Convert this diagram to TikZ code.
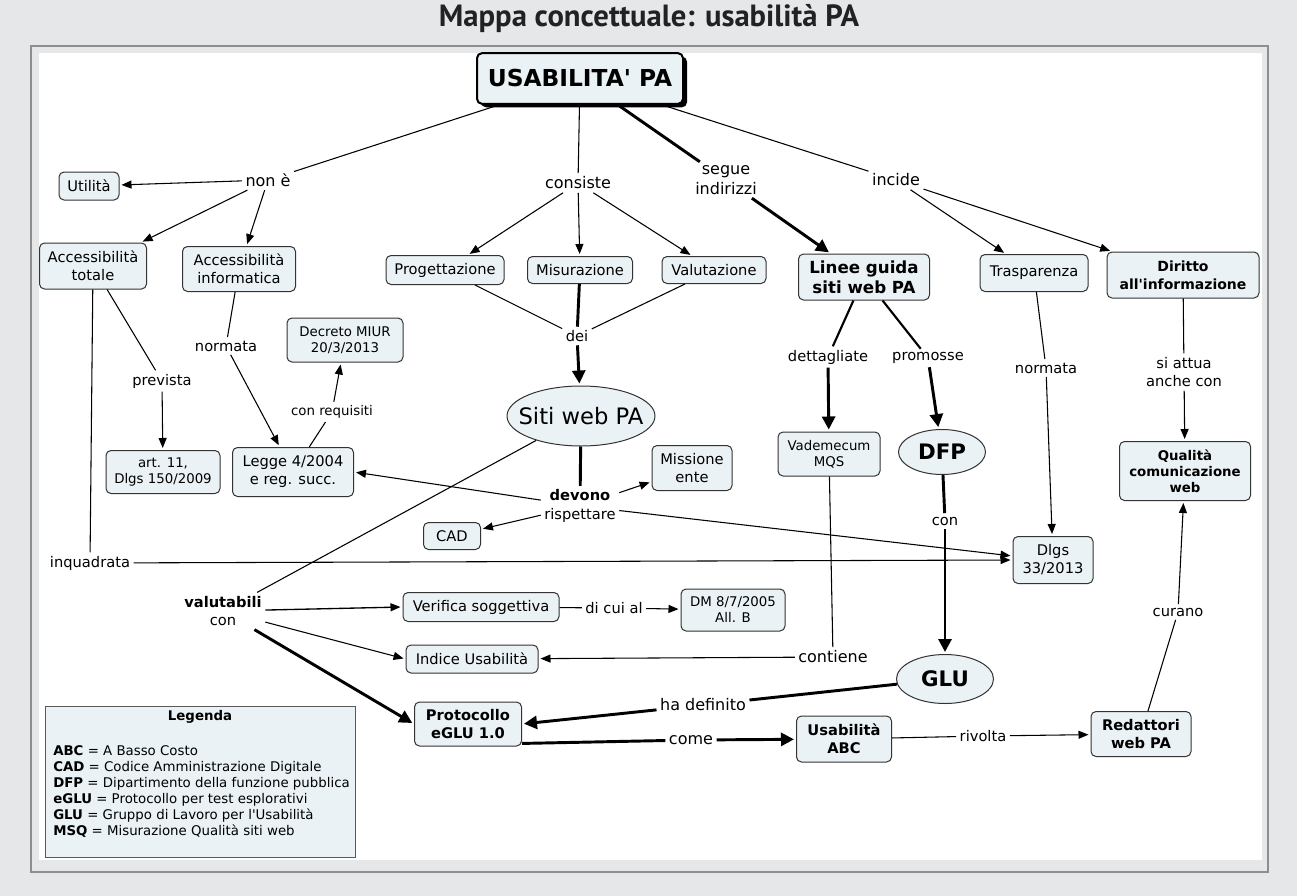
\documentclass[tikz,border=0pt]{standalone}
\usepackage{fontspec}
\setmainfont{DejaVu Sans}[Ligatures=TeXOff]
\newfontfamily\titlefont{PT Sans}
\usetikzlibrary{arrows.meta,shapes.geometric,shadows,calc}
\definecolor{bgc}{HTML}{E6E7E8}
\definecolor{framec}{HTML}{8E8E8E}
\definecolor{nodec}{HTML}{EAF2F5}
\definecolor{bordc}{HTML}{333333}
\definecolor{titlec}{HTML}{222222}
\newcommand{\mapN}{\fontsize{11}{13.5}\selectfont}
\newcommand{\mapNB}{\fontsize{11}{13.5}\selectfont\bfseries}
\newcommand{\mapS}{\fontsize{10}{12}\selectfont}
\newcommand{\mapL}{\fontsize{12}{15}\selectfont}
\newcommand{\mapLbl}{\fontsize{11}{14}\selectfont}
\newcommand{\mapSl}{\fontsize{10}{12}\selectfont}
\newcommand{\mapLB}{\fontsize{12.5}{15}\selectfont\bfseries}
\newcommand{\mapDB}{\fontsize{10.5}{13.5}\selectfont\bfseries}
\newcommand{\mapQB}{\fontsize{10}{12}\selectfont\bfseries}
\newcommand{\mapXL}{\fontsize{17}{20}\selectfont}
\newcommand{\mapXLB}{\fontsize{16}{19}\selectfont\bfseries}
\newcommand{\mapT}{\fontsize{17.5}{21}\selectfont\bfseries}
\begin{document}
\begin{tikzpicture}[x=0.75pt,y=-0.75pt,
  concept/.style={rectangle, draw=bordc, fill=nodec, rounded corners=3.75pt, line width=0.75pt, align=center, inner sep=0pt, font=\mapN},
  oval/.style={ellipse, draw=bordc, fill=nodec, line width=0.75pt, inner sep=0pt},
  lbl/.style={align=center, inner sep=2.5pt, font=\mapLbl},
  lblbig/.style={lbl, font=\mapL},
  ln/.style={line width=0.8pt, draw=black},
  lna/.style={ln, -{Triangle[length=7.5pt,width=6pt]}, shorten >=1.5pt},
  md/.style={line width=1.6pt, draw=black},
  tk/.style={line width=2.2pt, draw=black},
  tka/.style={tk, -{Triangle[length=9.75pt,width=9.75pt]}, shorten >=1.5pt},
  leg/.style={inner sep=0pt, font=\fontsize{10}{12}\selectfont}
]
\useasboundingbox (0,0) rectangle (1297,896);
\fill[bgc] (0,0) rectangle (1297,896);
\fill[white] (39,53) rectangle (1262,860);
\draw[framec, line width=1.7pt] (31,46) rectangle (1268,872);

\node[font=\titlefont\bfseries\fontsize{23}{27}\selectfont, text=titlec, inner sep=0pt, anchor=base] (title) at (649,26.5) {Mappa concettuale: usabilità PA};

% concepts
\node[concept, font=\mapT, line width=1.5pt, draw=black,
      drop shadow={shadow xshift=3pt, shadow yshift=-2.6pt, opacity=1, fill=black},
      minimum width=154.5pt, minimum height=38pt] (usab) at (580,78.5) {USABILITA' PA};
\node[concept, minimum width=45pt, minimum height=21pt] (utilita) at (89,186) {Utilità};
\node[concept, minimum width=80.25pt, minimum height=34.5pt] (acctot) at (93,266) {Accessibilità\\totale};
\node[concept, minimum width=84.75pt, minimum height=33.75pt] (accinf) at (239,269) {Accessibilità\\informatica};
\node[concept, minimum width=88.5pt, minimum height=21.75pt] (prog) at (445,270) {Progettazione};
\node[concept, minimum width=78.75pt, minimum height=20.25pt] (misur) at (580,270) {Misurazione};
\node[concept, minimum width=78pt, minimum height=20.25pt] (valut) at (714,270) {Valutazione};
\node[concept, font=\mapLB, minimum width=98.25pt, minimum height=34.5pt] (linee) at (864,277) {Linee guida\\siti web PA};
\node[concept, minimum width=81pt, minimum height=27.75pt] (trasp) at (1034,273) {Trasparenza};
\node[concept, font=\mapDB, minimum width=114pt, minimum height=34.5pt] (diritto) at (1183,275) {Diritto\\all'informazione};
\node[concept, font=\mapS, minimum width=87pt, minimum height=33pt] (decreto) at (345,340) {Decreto MIUR\\20/3/2013};
\node[oval, font=\mapXL, minimum width=111pt, minimum height=45pt] (siti) at (581,416) {\makebox[0pt]{Siti web PA}};
\node[concept, font=\mapS, minimum width=85.5pt, minimum height=32.25pt] (art11) at (163,472) {art. 11,\\Dlgs 150/2009};
\node[concept, minimum width=90.75pt, minimum height=36.75pt] (legge) at (293,472) {Legge 4/2004\\e reg. succ.};
\node[concept, font=\mapS, minimum width=76.5pt, minimum height=33pt] (vadem) at (829,454) {Vademecum\\MQS};
\node[oval, font=\mapXLB, minimum width=65.25pt, minimum height=33.75pt] (dfp) at (942,452) {\makebox[0pt]{DFP}};
\node[concept, minimum width=60pt, minimum height=33.75pt] (missione) at (692,468) {Missione\\ente};
\node[concept, font=\mapQB, minimum width=98.25pt, minimum height=44.25pt] (qualita) at (1185,471) {Qualità\\comunicazione\\web};
\node[concept, minimum width=42.75pt, minimum height=20.25pt] (cad) at (452,536) {CAD};
\node[concept, minimum width=60pt, minimum height=35.25pt] (dlgs) at (1053,560) {Dlgs\\33/2013};
\node[concept, minimum width=117pt, minimum height=21.75pt] (verif) at (481,607) {Verifica soggettiva};
\node[concept, font=\mapS, minimum width=78pt, minimum height=31.5pt] (dm) at (733,610) {DM 8/7/2005\\All. B};
\node[concept, minimum width=99pt, minimum height=21pt] (indice) at (472,659) {Indice Usabilità};
\node[oval, font=\mapXLB, minimum width=72.75pt, minimum height=36.75pt] (glu) at (945,679) {\makebox[0pt]{GLU}};
\node[concept, font=\mapNB, minimum width=80.25pt, minimum height=33pt] (prot) at (468,724) {Protocollo\\eGLU 1.0};
\node[concept, font=\mapNB, minimum width=71.25pt, minimum height=34.5pt] (usabc) at (844,739) {Usabilità\\ABC};
\node[concept, font=\mapNB, minimum width=75pt, minimum height=33.75pt] (redatt) at (1141,734) {Redattori\\web PA};

% link labels
\node[lblbig] (lnone) at (268,180) {non è};
\node[lblbig] (lcons) at (578,183) {consiste};
\node[lblbig] (lsegue) at (726,180) {segue\\indirizzi};
\node[lblbig] (lincide) at (896,180) {incide};
\node[lbl] (lprev) at (162,381) {prevista};
\node[lbl] (lnorm1) at (226,346) {normata};
\node[lbl, font=\mapSl] (lconreq) at (332,412) {con requisiti};
\node[lbl] (ldei) at (577,336) {dei};
\node[lbl] (ldett) at (828,357) {dettagliate};
\node[lbl] (lprom) at (928,358) {promosse};
\node[lbl] (lnorm2) at (1046,368) {normata};
\node[lbl] (lattua) at (1184,372) {si attua\\anche con};
\node[lbl] (ldevono) at (580,506) {\textbf{devono}\\rispettare};
\node[lbl] (linq) at (90,563) {inquadrata};
\node[lbl] (lcon) at (945,521) {con};
\node[lbl] (lval) at (223,611) {\textbf{valutabili}\\con};
\node[lbl] (ldicui) at (614,608) {di cui al};
\node[lblbig] (lcont) at (833,657) {contiene};
\node[lblbig] (lhadef) at (703,705) {ha definito};
\node[lblbig] (lcome) at (691,740) {come};
\node[lbl] (lriv) at (983,736) {rivolta};
\node[lbl] (lcur) at (1178,612) {curano};

% connectors
\draw[ln] (usab) -- (lnone);
\draw[lna] (lnone) -- (utilita);
\draw[lna] (lnone) -- (acctot);
\draw[lna] (lnone) -- (accinf);
\draw[ln] (usab) -- (lcons);
\draw[lna] (lcons) -- (prog);
\draw[lna] (lcons) -- (misur);
\draw[lna] (lcons) -- (valut);
\draw[tk] (usab) -- (lsegue);
\draw[tka] (lsegue) -- (linee);
\draw[ln] (usab) -- (lincide);
\draw[lna] (lincide) -- (trasp);
\draw[lna] (lincide) -- (diritto);
\draw[ln] (acctot) -- (lprev);
\draw[lna] (lprev) -- (art11);
\draw[ln] (acctot) -- (linq);
\draw[lna] (linq) -- (dlgs.west);
\draw[ln] (accinf) -- (lnorm1);
\draw[lna] (lnorm1) -- (legge);
\draw[ln] (legge) -- (lconreq);
\draw[lna] (lconreq) -- (decreto);
\draw[ln] (prog) -- (ldei);
\draw[ln] (valut) -- (ldei);
\draw[tk] (misur) -- (ldei);
\draw[tka] (ldei) -- (siti);
\draw[tk] (siti) -- (ldevono);
\draw[lna] (ldevono) -- (legge.east);
\draw[lna] (ldevono) -- (missione);
\draw[lna] (ldevono) -- (cad);
\draw[lna] (ldevono) -- ([yshift=3pt]dlgs.west);
\draw[ln] (siti) -- (lval);
\draw[lna, line width=1pt] (lval) -- (verif.west);
\draw[lna] (lval) -- (indice.west);
\draw[tka] (lval) -- (prot.west);
\draw[ln] (verif) -- (ldicui);
\draw[lna] (ldicui) -- (dm);
\draw[md] (linee) -- (ldett);
\draw[tka] (ldett) -- (vadem);
\draw[md] (linee) -- (lprom);
\draw[tka] (lprom) -- (dfp);
\draw[ln] (vadem) -- (lcont);
\draw[lna] (lcont) -- (indice);
\draw[tk] (dfp) -- (lcon);
\draw[tka] (lcon) -- (glu);
\draw[tk] (glu) -- (lhadef);
\draw[tka] (lhadef) -- (prot.east);
\draw[tk] ([yshift=2.3pt]prot.south east) -- (lcome);
\draw[tka] (lcome) -- (usabc);
\draw[ln] (usabc) -- (lriv);
\draw[lna] (lriv) -- (redatt);
\draw[ln] (redatt) -- (lcur);
\draw[lna] (lcur) -- (qualita);
\draw[ln] (trasp) -- (lnorm2);
\draw[lna] (lnorm2) -- (dlgs);
\draw[ln] (diritto) -- (lattua);
\draw[lna] (lattua) -- (qualita);

% legend
\node[draw=black!65, fill=nodec, line width=0.8pt, minimum width=232.5pt, minimum height=113.25pt, anchor=north west, inner sep=0pt] (legend) at (45,706) {};
\node[leg, font=\fontsize{10}{12}\selectfont\bfseries, anchor=base] (legtitle) at (200,720) {Legenda};
\node[leg, anchor=base west] (lg1) at (53,755) {\textbf{ABC} = A Basso Costo};
\node[leg, anchor=base west] (lg2) at (53,771) {\textbf{CAD} = Codice Amministrazione Digitale};
\node[leg, anchor=base west] (lg3) at (53,787) {\textbf{DFP} = Dipartimento della funzione pubblica};
\node[leg, anchor=base west] (lg4) at (53,803) {\textbf{eGLU} = Protocollo per test esplorativi};
\node[leg, anchor=base west] (lg5) at (53,819) {\textbf{GLU} = Gruppo di Lavoro per l'Usabilità};
\node[leg, anchor=base west] (lg6) at (53,835) {\textbf{MSQ} = Misurazione Qualità siti web};
\end{tikzpicture}
\end{document}
